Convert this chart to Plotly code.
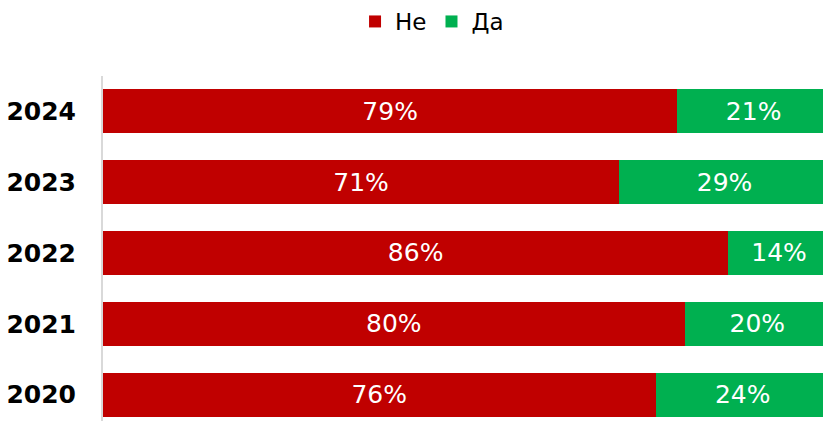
import plotly.graph_objects as go

years = ['2020', '2021', '2022', '2023', '2024']
ne = [76, 80, 86, 71, 79]
da = [24, 20, 14, 29, 21]

font_family = 'DejaVu Sans'

fig = go.Figure()
fig.add_trace(go.Bar(
    y=years, x=ne, name='Не', orientation='h',
    marker=dict(color='#C00000', line=dict(width=0)),
    text=[f'{v}%' for v in ne], textposition='inside', insidetextanchor='middle',
    textfont=dict(color='white', size=25, family=font_family),
))
fig.add_trace(go.Bar(
    y=years, x=da, name='Да', orientation='h',
    marker=dict(color='#00B050', line=dict(width=0)),
    text=[f'{v}%' for v in da], textposition='inside', insidetextanchor='middle',
    textfont=dict(color='white', size=25, family=font_family),
))

fig.update_layout(
    barmode='stack',
    bargap=0.38,
    width=823, height=421,
    margin=dict(l=103, r=0, t=76, b=0),
    paper_bgcolor='white',
    plot_bgcolor='white',
    font=dict(family=font_family, size=22, color='black'),
    showlegend=True,
    legend=dict(
        orientation='h', x=0.457, xanchor='center', y=1.0, yanchor='top',
        yref='container', font=dict(size=23), traceorder='normal',
        itemwidth=30,
    ),
    uniformtext=dict(mode=False),
)
# the bars run past the right edge, as in the original
fig.update_xaxes(visible=False, range=[0, 99.04])
fig.update_yaxes(
    range=[-0.373, 4.5],
    showline=True, linecolor='#d9d9d9', linewidth=2,
    showgrid=False, ticks='', ticklabelstandoff=20,
    tickfont=dict(size=25, family=font_family, weight='bold', color='black'),
)

# drop the default page margin so the figure fills the window
fig.write_html(
    'out.html',
    config={'displayModeBar': False},
    post_script="document.body.style.margin='0';document.body.style.overflow='hidden';",
)
